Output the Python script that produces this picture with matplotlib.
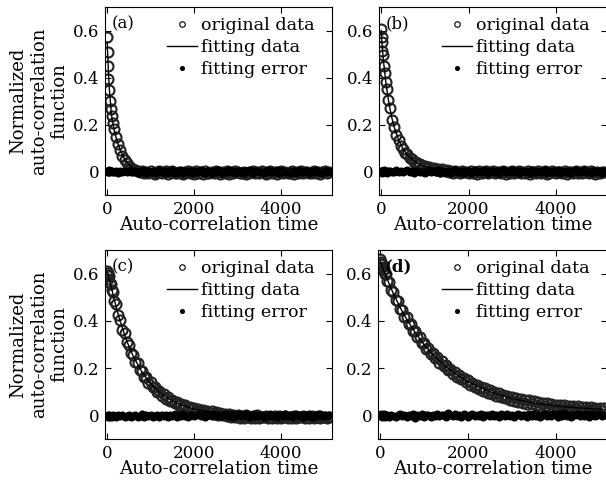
import matplotlib
matplotlib.use("Agg")
from matplotlib import pyplot as plt
import numpy as np

# sampling times of the measured curves (dense at the start, then every 50)
t_head = [0, 10, 20, 30, 40, 60, 80, 100, 130, 160, 200, 250, 300, 350, 400, 450, 500, 550]
t_data = np.array(t_head + list(range(600, 5150, 50)))
# times of the fitted curves
t_fit = [0, 25, 50, 100, 150, 200, 250, 300, 400, 500, 600, 800, 1000, 1250, 1500, 1750,
         2000, 2500, 3000, 3500, 4000, 4500, 5100]

# ---- panel (a)
orig_a = [0.572, 0.508, 0.447, 0.392, 0.345, 0.301, 0.268, 0.238, 0.207, 0.181, 0.148, 0.119,
          0.092, 0.068, 0.049, 0.036, 0.024, 0.016,
          0.010, 0.006, 0.003, -0.002, 0.004, -0.006, -0.001, -0.008, 0.002, -0.005,
          -0.009, -0.003, 0.003, -0.007, -0.002, 0.001, -0.010, -0.004, 0.002, -0.006,
          -0.008, 0.000, -0.005, -0.011, -0.002, 0.003, -0.007, -0.004, -0.009, 0.001,
          -0.006, -0.003, -0.010, 0.002, -0.005, -0.008, -0.001, -0.007, 0.003, -0.004,
          -0.009, -0.002, -0.006, 0.001, -0.011, -0.004, -0.007, 0.002, -0.003, -0.008,
          -0.005, 0.000, -0.010, -0.006, -0.002, 0.003, -0.008, -0.004, -0.007, 0.001,
          -0.003, -0.009, -0.005, 0.002, -0.006, -0.001, -0.010, -0.004, 0.003, -0.007,
          -0.002, -0.008, -0.005, 0.001, -0.009, -0.003, -0.006, 0.002, -0.007, -0.004,
          -0.001, -0.008, -0.005, 0.003, -0.006, -0.002, -0.009, -0.004, 0.001, -0.005,
          -0.003]
fit_a = [0.550, 0.440, 0.350, 0.240, 0.185, 0.147, 0.117, 0.092, 0.053, 0.028, 0.014, 0.004,
         0.001, 0.0, 0.0, 0.0, 0.0, 0.0, 0.0, 0.0, 0.0, 0.0, 0.0]
err_a = [0.003, -0.004, 0.002, -0.001, 0.005, -0.003, 0.001, 0.004, -0.002, 0.000, 0.003, -0.005,
         0.002, -0.001, 0.004, -0.003, 0.001, -0.002,
         -0.004, 0.002, -0.006, 0.003, -0.002, 0.005, -0.007, 0.001, -0.003, 0.004,
         -0.005, 0.000, 0.006, -0.004, 0.002, -0.008, 0.003, -0.001, 0.005, -0.006,
         0.001, -0.003, 0.007, -0.005, 0.002, -0.002, 0.004, -0.007, 0.000, 0.003,
         -0.004, 0.006, -0.001, -0.005, 0.002, 0.004, -0.006, 0.001, -0.003, 0.005,
         -0.002, -0.007, 0.003, 0.000, 0.006, -0.004, 0.002, -0.005, 0.004, -0.001,
         0.003, -0.006, 0.001, 0.005, -0.003, -0.008, 0.002, 0.004, -0.002, 0.000,
         -0.005, 0.003, 0.006, -0.004, 0.001, -0.002, 0.005, -0.007, 0.002, 0.003,
         -0.003, 0.000, -0.006, 0.004, 0.002, -0.005, 0.007, -0.001, -0.004, 0.003,
         0.001, -0.006, 0.004, -0.002, 0.005, -0.003, 0.000, -0.007, 0.002, 0.004,
         -0.001]

# ---- panel (b)
orig_b = [0.608, 0.571, 0.549, 0.512, 0.494, 0.447, 0.421, 0.381, 0.349, 0.306, 0.272, 0.221,
          0.191, 0.154, 0.136, 0.109, 0.097, 0.079,
          0.073, 0.057, 0.054, 0.042, 0.041, 0.031, 0.032, 0.023, 0.025, 0.017,
          0.020, 0.012, 0.016, 0.008, 0.012, 0.004, 0.009, 0.001, 0.006, -0.003,
          0.004, -0.005, 0.002, -0.002, -0.007, 0.003, -0.004, 0.000, -0.008, 0.002,
          -0.005, -0.001, -0.009, 0.003, -0.006, -0.002, 0.001, -0.007, -0.003, 0.002,
          -0.008, -0.004, 0.000, -0.006, 0.003, -0.010, -0.002, -0.005, 0.001, -0.007,
          -0.003, 0.002, -0.008, -0.001, -0.005, 0.003, -0.009, -0.004, 0.000, -0.006,
          0.002, -0.007, -0.003, 0.001, -0.010, -0.005, 0.003, -0.002, -0.008, -0.004,
          0.000, -0.006, 0.002, -0.009, -0.003, -0.001, -0.007, 0.003, -0.005, -0.002,
          -0.008, 0.001, -0.004, -0.006, 0.002, -0.003, -0.009, 0.000, -0.005, -0.002,
          -0.004]
fit_b = [0.600, 0.530, 0.475, 0.390, 0.322, 0.268, 0.224, 0.188, 0.134, 0.096, 0.070, 0.038,
         0.021, 0.010, 0.004, 0.001, 0.0, 0.0, 0.0, 0.0, 0.0, 0.0, 0.0]
err_b = [0.002, -0.005, 0.004, 0.001, -0.003, 0.006, -0.002, 0.003, -0.006, 0.001, 0.004, -0.003,
         0.000, 0.005, -0.004, 0.002, -0.001, 0.003,
         0.005, -0.002, 0.003, -0.006, 0.001, 0.004, -0.003, 0.000, -0.007, 0.002,
         0.006, -0.004, 0.001, -0.001, 0.005, -0.005, 0.003, -0.002, 0.000, 0.004,
         -0.006, 0.002, 0.007, -0.003, -0.001, 0.004, -0.005, 0.001, 0.003, -0.007,
         0.000, 0.005, -0.002, 0.002, -0.004, 0.006, -0.001, -0.006, 0.003, 0.001,
         -0.003, 0.004, -0.005, 0.002, 0.006, -0.002, 0.000, -0.004, 0.005, -0.001,
         0.003, -0.007, 0.001, 0.004, -0.003, 0.002, -0.005, 0.006, 0.000, -0.002,
         0.004, -0.004, 0.001, 0.005, -0.006, 0.003, -0.001, 0.002, -0.003, 0.007,
         -0.005, 0.000, 0.003, -0.002, 0.004, -0.006, 0.001, 0.005, -0.003, -0.001,
         0.002, 0.006, -0.004, 0.000, -0.005, 0.003, 0.001, -0.002, 0.004, -0.006,
         0.002]

# ---- panel (c)
orig_c = [0.612, 0.594, 0.601, 0.579, 0.588, 0.561, 0.557, 0.529, 0.521, 0.486, 0.470, 0.423,
          0.405, 0.361, 0.349, 0.309, 0.299, 0.263,
          0.257, 0.224, 0.220, 0.191, 0.189, 0.162, 0.163, 0.139, 0.140, 0.118,
          0.120, 0.099, 0.104, 0.084, 0.089, 0.071, 0.077, 0.060, 0.066, 0.051,
          0.057, 0.043, 0.049, 0.036, 0.043, 0.030, 0.037, 0.025, 0.032, 0.020,
          0.027, 0.016, 0.024, 0.012, 0.020, 0.009, 0.017, 0.006, 0.014, 0.003,
          0.010, 0.000, 0.007, -0.003, 0.004, -0.006, 0.002, -0.008, 0.001, -0.009,
          -0.002, -0.010, 0.000, -0.007, -0.012, -0.003, -0.009, 0.001, -0.011, -0.005,
          -0.008, -0.002, -0.012, -0.006, -0.009, -0.001, -0.010, -0.004, -0.013, -0.007,
          -0.003, -0.011, -0.006, -0.009, -0.002, -0.012, -0.005, -0.008, -0.001, -0.010,
          -0.006, -0.012, -0.004, -0.009, -0.007, -0.002, -0.011, -0.005, -0.008, -0.010,
          -0.006]
fit_c = [0.605, 0.592, 0.575, 0.537, 0.500, 0.463, 0.430, 0.398, 0.341, 0.292, 0.250, 0.183,
         0.134, 0.090, 0.061, 0.041, 0.027, 0.011, 0.003, -0.001, -0.003, -0.004, -0.005]
err_c = [-0.004, 0.001, -0.006, -0.002, 0.003, -0.005, -0.001, -0.007, 0.002, -0.003, -0.006, 0.000,
         -0.004, 0.002, -0.005, -0.002, 0.001, -0.006,
         -0.003, 0.002, -0.005, -0.001, 0.004, -0.006, 0.000, -0.003, 0.003, -0.007,
         -0.002, 0.001, -0.005, 0.003, -0.004, 0.000, -0.006, 0.002, -0.002, 0.004,
         -0.005, 0.001, -0.003, 0.005, -0.001, -0.006, 0.002, 0.000, -0.004, 0.003,
         0.006, -0.002, 0.001, -0.005, 0.004, 0.002, -0.003, 0.007, -0.001, 0.000,
         0.003, -0.004, 0.005, 0.001, -0.002, 0.006, -0.005, 0.002, 0.000, 0.004,
         -0.003, 0.001, 0.005, -0.006, 0.002, -0.001, 0.004, -0.004, 0.003, 0.000,
         -0.005, 0.002, -0.002, 0.006, -0.003, 0.001, -0.006, 0.003, 0.000, -0.004,
         0.004, -0.002, 0.001, -0.007, 0.002, 0.005, -0.003, 0.000, -0.005, 0.003,
         -0.001, 0.004, -0.006, 0.002, -0.003, 0.001, 0.005, -0.004, 0.000, -0.002,
         0.003]

# ---- panel (d)
orig_d = [0.662, 0.641, 0.648, 0.629, 0.640, 0.615, 0.621, 0.598, 0.597, 0.570, 0.566, 0.530,
          0.524, 0.489, 0.484, 0.451, 0.448, 0.417,
          0.415, 0.386, 0.385, 0.357, 0.358, 0.330, 0.331, 0.305, 0.307, 0.282,
          0.285, 0.261, 0.265, 0.241, 0.246, 0.223, 0.229, 0.207, 0.213, 0.191,
          0.198, 0.177, 0.185, 0.164, 0.172, 0.152, 0.160, 0.141, 0.149, 0.130,
          0.139, 0.121, 0.130, 0.112, 0.122, 0.104, 0.114, 0.096, 0.107, 0.089,
          0.100, 0.083, 0.094, 0.077, 0.088, 0.072, 0.083, 0.067, 0.078, 0.062,
          0.074, 0.058, 0.070, 0.054, 0.066, 0.050, 0.063, 0.047, 0.059, 0.044,
          0.057, 0.041, 0.054, 0.039, 0.051, 0.037, 0.048, 0.034, 0.046, 0.032,
          0.045, 0.030, 0.042, 0.029, 0.041, 0.027, 0.039, 0.026, 0.038, 0.024,
          0.037, 0.023, 0.036, 0.022, 0.035, 0.021, 0.033, 0.020, 0.032, 0.019,
          0.031]
fit_d = [0.650, 0.639, 0.627, 0.604, 0.581, 0.559, 0.537, 0.516, 0.477, 0.441, 0.408, 0.350,
         0.300, 0.248, 0.206, 0.171, 0.142, 0.100, 0.071, 0.052, 0.040, 0.032, 0.025]
err_d = [0.003, -0.002, 0.005, -0.006, 0.001, -0.003, 0.004, -0.007, 0.000, 0.002, -0.005, 0.003,
         -0.001, -0.008, 0.002, 0.004, -0.004, 0.001,
         -0.006, 0.002, -0.003, 0.004, -0.009, 0.000, -0.002, 0.005, -0.005, 0.001,
         0.003, -0.007, 0.002, -0.001, 0.006, -0.004, 0.000, 0.003, -0.006, 0.011,
         0.002, -0.003, 0.005, -0.002, 0.000, -0.005, 0.004, 0.001, -0.006, 0.002,
         0.007, -0.004, 0.001, -0.002, 0.005, -0.007, 0.003, 0.000, -0.004, 0.006,
         -0.001, 0.002, -0.006, 0.004, 0.000, -0.003, 0.005, -0.002, 0.001, -0.007,
         0.003, 0.006, -0.004, 0.000, 0.002, -0.005, 0.004, -0.001, 0.007, -0.003,
         0.001, -0.006, 0.003, 0.005, -0.002, 0.000, -0.004, 0.006, 0.002, -0.005,
         0.004, -0.001, 0.008, -0.003, 0.001, -0.006, 0.003, 0.000, 0.005, -0.004,
         0.002, -0.002, 0.006, -0.005, 0.001, 0.004, -0.003, 0.000, 0.005, -0.002,
         0.003]

panels = [("(a)", orig_a, fit_a, err_a), ("(b)", orig_b, fit_b, err_b),
          ("(c)", orig_c, fit_c, err_c), ("(d)", orig_d, fit_d, err_d)]

plt.rcParams['font.family'] = ['DejaVu Serif']
plt.rcParams['font.size'] = 12

W, H = 606, 487
fig = plt.figure(figsize=(W / 100, H / 100), dpi=100)

# axes boxes in pixels: left, top, width, height
boxes = [(105, 7, 227, 188), (379, 7, 228, 188),
         (105, 250, 227, 189), (378, 250, 229, 189)]

for i, (lab, orig, fit, err) in enumerate(panels):
    l, t, w, h = boxes[i]
    ax = fig.add_axes([l / W, 1 - (t + h) / H, w / W, h / H])
    ax.plot(t_data, orig, 'o', mfc='none', mec='#222222', mew=1.5, ms=7.2,
            label='original data')
    ax.plot(t_fit, fit, '-', color='black', lw=1.0, label='fitting data')
    ax.plot(t_data, err, 'o', color='black', ms=4.8, label='fitting error')
    ax.set_xlim(-50, 5170)
    ax.set_ylim(-0.1, 0.7)
    ax.set_xticks([0, 2000, 4000])
    ax.set_yticks([0, 0.2, 0.4, 0.6])
    ax.set_yticklabels(['0', '0.2', '0.4', '0.6'])
    ax.tick_params(direction='in', top=True, right=True, length=4, pad=4)
    ax.set_xlabel('Auto-correlation time', fontsize=13.2, labelpad=-1)
    if i % 2 == 0:
        ax.set_ylabel('Normalized\nauto-correlation\nfunction', fontsize=13,
                      linespacing=1.2, labelpad=3)
    ax.text(0.03, 0.955, lab, transform=ax.transAxes, ha='left', va='top',
            fontweight='bold' if lab == '(d)' else 'normal')
    leg = ax.legend(loc='upper right', bbox_to_anchor=(0.955, 0.985), frameon=False,
                    fontsize=12.6, handlelength=1.7, handletextpad=0.25,
                    labelspacing=0.3, borderaxespad=0.2, markerscale=0.55, borderpad=0.2)
    # thin outline for the legend circle
    leg.legend_handles[0].set_markeredgewidth(0.8)
    leg.legend_handles[0].set_markeredgecolor('black')

fig.savefig('out.png', dpi=100)
